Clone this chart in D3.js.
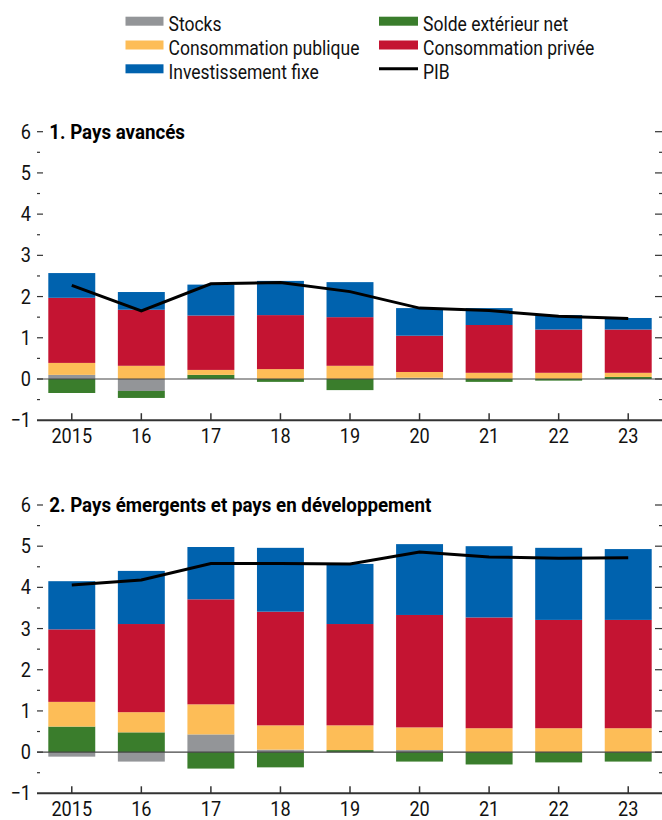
<!DOCTYPE html>
<html><head><meta charset="utf-8">
<script src="https://cdn.jsdelivr.net/npm/d3@7"></script>
<style>
html,body{margin:0;padding:0;background:#fff;}
svg{display:block;font-family:Roboto,"Liberation Sans",sans-serif;}
</style></head>
<body>
<svg id="chart" width="662" height="820"></svg>
<script>
const years = ["2015","16","17","18","19","20","21","22","23"];
const seriesKeys = ["Stocks","Solde extérieur net","Consommation publique","Consommation privée","Investissement fixe"];
const seriesColors = ["#939598","#3a7d2c","#fdbd57","#c41432","#0062ae"];
const yTicks = [-1,0,1,2,3,4,5,6];

// 1. Pays avancés
const advStocks = [0.10,-0.29,0.00,0.00,0.00,0.03,0.00,0.00,0.00];
const advSolde  = [-0.34,-0.17,0.10,-0.07,-0.27,0.00,-0.07,-0.04,0.05];
const advPub    = [0.29,0.32,0.12,0.24,0.32,0.14,0.15,0.15,0.10];
const advPriv   = [1.58,1.36,1.32,1.31,1.18,0.88,1.16,1.05,1.05];
const advInv    = [0.60,0.43,0.75,0.83,0.85,0.67,0.41,0.35,0.28];
const advPIB    = [2.27,1.65,2.31,2.34,2.12,1.72,1.66,1.52,1.47];

// 2. Pays émergents et pays en développement
const emStocks = [-0.11,-0.23,0.43,0.06,0.00,0.05,0.00,0.00,0.00];
const emSolde  = [0.62,0.48,-0.40,-0.37,0.05,-0.23,-0.30,-0.25,-0.23];
const emPub    = [0.60,0.49,0.73,0.59,0.60,0.55,0.58,0.58,0.58];
const emPriv   = [1.76,2.14,2.55,2.76,2.46,2.73,2.69,2.63,2.63];
const emInv    = [1.17,1.29,1.27,1.55,1.46,1.72,1.73,1.75,1.72];
const emPIB    = [4.06,4.18,4.58,4.58,4.57,4.86,4.74,4.71,4.72];

const svg = d3.select("#chart");
const W = 662;

function factorFor(str, size, weight, target){
  const t = svg.append("text").attr("font-size",size).attr("font-weight",weight).text(str);
  const L = t.node().getComputedTextLength();
  t.remove();
  return target / L;
}
function fit(sel, f){
  sel.each(function(){
    const L = this.getComputedTextLength();
    d3.select(this).attr("textLength", L*f).attr("lengthAdjust","spacingAndGlyphs");
  });
}

const FS = 20;
const fLegend = factorFor("Consommation publique", 20.5, "normal", 191);
const fDigits = factorFor("2015", FS, "normal", 40.7);
const fTitle  = factorFor("2. Pays émergents et pays en développement", FS, "bold", 382);

// Legend
const legendItems = [
  {label:"Stocks", color:seriesColors[0], col:0, row:0},
  {label:"Consommation publique", color:seriesColors[2], col:0, row:1},
  {label:"Investissement fixe", color:seriesColors[4], col:0, row:2},
  {label:"Solde extérieur net", color:seriesColors[1], col:1, row:0},
  {label:"Consommation privée", color:seriesColors[3], col:1, row:1},
  {label:"PIB", color:"#000", col:1, row:2, line:true}
];
const lg = svg.append("g");
legendItems.forEach(it=>{
  const x0 = it.col===0 ? 125.5 : 379;
  const sw = it.col===0 ? 38 : 39;
  const yc = 21.2 + it.row*23.8;
  if(it.line){
    lg.append("line").attr("x1",x0).attr("x2",x0+sw).attr("y1",yc).attr("y2",yc)
      .attr("stroke","#000").attr("stroke-width",3);
  } else {
    lg.append("rect").attr("x",x0).attr("y",yc-4.5).attr("width",sw).attr("height",9).attr("fill",it.color);
  }
  lg.append("text").attr("class","leg").attr("x",x0+sw+5).attr("y",yc+9.8).attr("font-size",20.5).attr("fill","#111").text(it.label);
});
fit(lg.selectAll("text.leg"), fLegend);

function panel(title, top, bottom, data, pib){
  const x = d3.scaleBand().domain(years).range([37,663]).paddingInner(0.325).paddingOuter(0.1625);
  const y = d3.scaleLinear().domain([-1,6]).range([bottom, top]);
  const rows = years.map((yr,i)=>{
    const o = {year:yr};
    seriesKeys.forEach((k,j)=>o[k]=data[j][i]);
    return o;
  });
  const stack = d3.stack().keys(seriesKeys).offset(d3.stackOffsetDiverging)(rows);
  const g = svg.append("g");
  stack.forEach((s,j)=>{
    g.append("g").attr("fill",seriesColors[j]).selectAll("rect").data(s).join("rect")
      .attr("x",d=>x(d.data.year))
      .attr("width",x.bandwidth())
      .attr("y",d=>y(Math.max(d[0],d[1])))
      .attr("height",d=>Math.abs(y(d[0])-y(d[1])));
  });
  g.append("line").attr("x1",37).attr("x2",W).attr("y1",y(0)).attr("y2",y(0))
    .attr("stroke","#444").attr("stroke-width",1.2);
  const line = d3.line().x((d,i)=>x(years[i])+x.bandwidth()/2).y(d=>y(d));
  g.append("path").datum(pib).attr("d",line).attr("fill","none").attr("stroke","#000").attr("stroke-width",3);
  g.append("line").attr("x1",37).attr("x2",W).attr("y1",bottom).attr("y2",bottom).attr("stroke","#333").attr("stroke-width",2);
  years.forEach(yr=>{
    const cx = x(yr)+x.bandwidth()/2;
    g.append("line").attr("x1",cx).attr("x2",cx).attr("y1",bottom).attr("y2",bottom-7).attr("stroke","#333").attr("stroke-width",1.5);
    g.append("text").attr("class","dig").attr("x",cx).attr("y",bottom+22.5).attr("text-anchor","middle").attr("font-size",FS).attr("fill","#111").text(yr);
  });
  yTicks.forEach(t=>{
    const yy = y(t);
    if(t>-1){
      g.append("line").attr("x1",37).attr("x2",43).attr("y1",yy).attr("y2",yy).attr("stroke","#333").attr("stroke-width",1.2);
      g.append("line").attr("x1",655).attr("x2",W).attr("y1",yy).attr("y2",yy).attr("stroke","#333").attr("stroke-width",1.2);
    }
    g.append("text").attr("class","dig").attr("x",31).attr("y",yy+7).attr("text-anchor","end").attr("font-size",FS).attr("fill","#111")
      .text(t<0 ? "\u2212"+Math.abs(t) : t);
    if(t<6){
      const ym = y(t+0.5);
      g.append("line").attr("x1",37).attr("x2",40).attr("y1",ym).attr("y2",ym).attr("stroke","#333").attr("stroke-width",1.2);
      g.append("line").attr("x1",659).attr("x2",W).attr("y1",ym).attr("y2",ym).attr("stroke","#333").attr("stroke-width",1.2);
    }
  });
  fit(g.selectAll("text.dig"), fDigits);
  const tt = g.append("text").attr("x",49.3).attr("y",y(6)+7.3).attr("font-size",FS).attr("font-weight","bold").attr("fill","#000").text(title);
  fit(tt, fTitle);
}

panel("1. Pays avancés", 131.7, 420.2,
  [advStocks,advSolde,advPub,advPriv,advInv], advPIB);
panel("2. Pays émergents et pays en développement", 505, 793.3,
  [emStocks,emSolde,emPub,emPriv,emInv], emPIB);
</script>
</body></html>
